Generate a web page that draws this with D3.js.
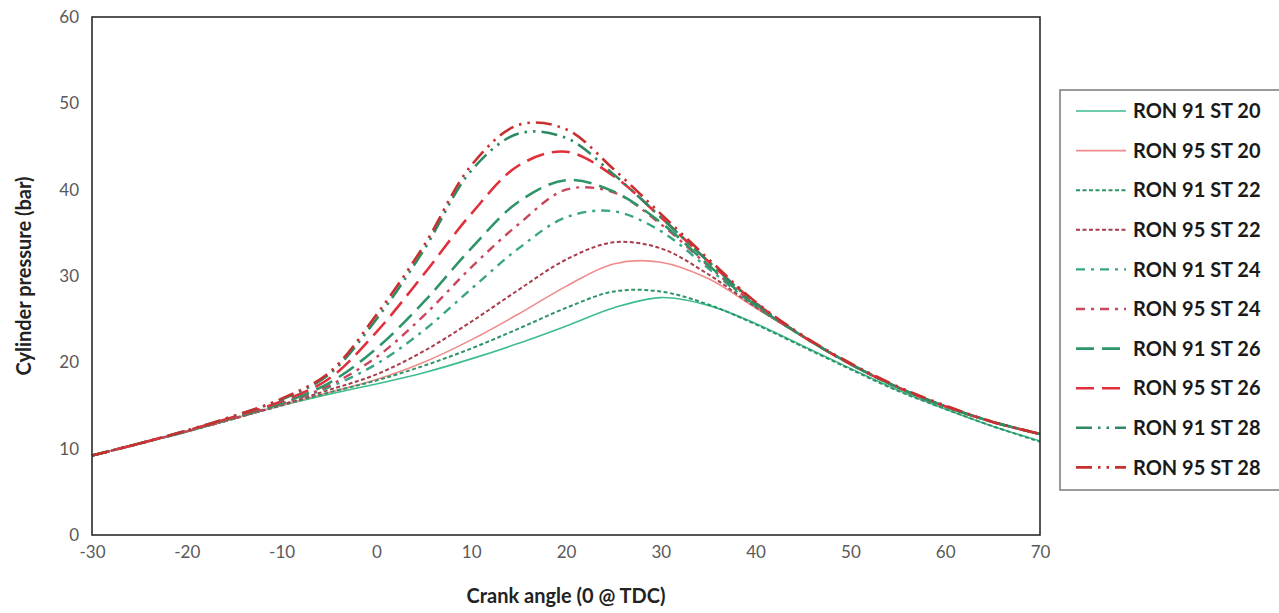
<!DOCTYPE html>
<html>
<head>
<meta charset="utf-8">
<script src="https://cdn.jsdelivr.net/npm/d3@7/dist/d3.min.js"></script>
<style>
  html, body { margin: 0; padding: 0; background: #fff; }
  svg { display: block; }
  text { font-family: Lato, "Open Sans", sans-serif; }
</style>
</head>
<body>
<svg id="chart" width="1279" height="613"></svg>
<script>
// Crank angles (deg, 0 @ TDC) at which pressure is sampled
const angles = [-30,-25,-20,-15,-10,-5,0,5,10,15,20,25,30,35,40,45,50,55,60,65,70];

// Cylinder pressure (bar) per fuel / spark timing
const ron91st20 = [9.2,10.6,12.0,13.5,15.0,16.3,17.5,18.8,20.4,22.2,24.2,26.3,27.5,26.6,24.5,21.9,19.3,16.8,14.6,12.6,10.9];
const ron95st20 = [9.2,10.6,12.0,13.5,15.0,16.5,18.0,20.0,22.6,25.6,28.8,31.4,31.6,29.7,26.3,23.0,19.8,17.1,14.9,13.1,11.7];
const ron91st22 = [9.2,10.6,12.0,13.5,15.0,16.5,17.9,19.6,21.6,23.9,26.3,28.2,28.2,26.7,24.4,21.8,19.2,16.7,14.6,12.6,10.8];
const ron95st22 = [9.2,10.6,12.0,13.5,15.1,16.8,18.6,21.3,24.7,28.4,31.9,33.9,33.2,30.2,26.4,23.0,19.8,17.1,14.9,13.1,11.7];
const ron91st24 = [9.2,10.6,12.0,13.5,15.2,17.1,19.8,23.7,28.5,33.2,36.8,37.5,35.2,30.9,26.5,23.0,19.8,17.1,14.9,13.1,11.7];
const ron95st24 = [9.2,10.6,12.0,13.5,15.2,17.3,20.6,25.4,31.0,36.0,40.0,39.7,36.0,31.2,26.6,23.0,19.8,17.1,14.9,13.1,11.7];
const ron91st26 = [9.2,10.6,12.0,13.6,15.3,17.6,21.6,27.0,33.2,38.6,41.1,39.8,36.2,31.3,26.6,23.0,19.8,17.1,14.9,13.1,11.7];
const ron95st26 = [9.2,10.6,12.1,13.7,15.5,18.1,23.5,30.2,37.2,42.8,44.4,41.6,36.8,31.7,26.9,23.0,19.8,17.1,14.9,13.1,11.7];
const ron91st28 = [9.2,10.6,12.1,13.8,15.7,18.6,25.0,33.0,42.2,46.5,46.0,41.8,36.8,31.7,26.8,23.0,19.8,17.1,14.9,13.1,11.7];
const ron95st28 = [9.2,10.6,12.1,13.8,15.8,18.8,25.5,33.5,42.8,47.5,47.0,42.4,37.2,32.0,27.0,23.1,19.9,17.2,15.0,13.1,11.7];

const seriesNames = ["RON 91 ST 20","RON 95 ST 20","RON 91 ST 22","RON 95 ST 22","RON 91 ST 24",
                     "RON 95 ST 24","RON 91 ST 26","RON 95 ST 26","RON 91 ST 28","RON 95 ST 28"];
const seriesValues = [ron91st20, ron95st20, ron91st22, ron95st22, ron91st24,
                      ron95st24, ron91st26, ron95st26, ron91st28, ron95st28];

const xTicks = [-30,-20,-10,0,10,20,30,40,50,60,70];
const yTicks = [0,10,20,30,40,50,60];

// Line styling per series (green = RON 91, red = RON 95)
const styles = [
  { color: "#3dbd8c", width: 1.6, dash: null },
  { color: "#f08c8c", width: 1.6, dash: null },
  { color: "#2e9468", width: 2.0, dash: "4,2.5" },
  { color: "#a83c4a", width: 2.0, dash: "4,2.5" },
  { color: "#3aa586", width: 2.4, dash: "9,6,3,6" },
  { color: "#c8475c", width: 2.4, dash: "9,6,3,6" },
  { color: "#2f9569", width: 2.6, dash: "18,8" },
  { color: "#e0303c", width: 2.6, dash: "18,8" },
  { color: "#2f8a64", width: 2.6, dash: "16,6,2.5,6,2.5,6" },
  { color: "#c8302f", width: 2.6, dash: "16,6,2.5,6,2.5,6" }
];

const svg = d3.select("#chart");
const plotL = 92, plotR = 1040, plotT = 17, plotB = 535;

const x = d3.scaleLinear().domain([-30, 70]).range([plotL, plotR]);
const y = d3.scaleLinear().domain([0, 60]).range([plotB, plotT]);

// Axes (labels only, no tick marks)
const gx = svg.append("g")
  .attr("transform", `translate(0,${plotB})`)
  .call(d3.axisBottom(x).tickValues(xTicks).tickSize(0).tickPadding(11).tickFormat(d => String(d)));
const gy = svg.append("g")
  .attr("transform", `translate(${plotL},0)`)
  .call(d3.axisLeft(y).tickValues(yTicks).tickSize(0).tickPadding(13).tickFormat(d => String(d)));
[gx, gy].forEach(g => {
  g.select(".domain").remove();
  g.selectAll("text")
    .attr("fill", "#595959")
    .style("font-family", "Lato, sans-serif")
    .style("font-size", "17px");
});

// Curves
const line = d3.line()
  .x((d, i) => x(angles[i]))
  .y(d => y(d))
  .curve(d3.curveCatmullRom.alpha(0.5));

svg.append("g")
  .selectAll("path")
  .data(seriesValues)
  .join("path")
  .attr("d", d => line(d))
  .attr("fill", "none")
  .attr("stroke", (d, i) => styles[i].color)
  .attr("stroke-width", (d, i) => styles[i].width)
  .attr("stroke-dasharray", (d, i) => styles[i].dash)
  .attr("stroke-linejoin", "round");

// Plot frame
svg.append("rect")
  .attr("x", plotL).attr("y", plotT)
  .attr("width", plotR - plotL).attr("height", plotB - plotT)
  .attr("fill", "none").attr("stroke", "#2b2b2b").attr("stroke-width", 1.6);

// Axis titles
svg.append("text")
  .attr("x", (plotL + plotR) / 2).attr("y", 603)
  .attr("text-anchor", "middle")
  .style("font-size", "20px").style("font-weight", "bold")
  .attr("fill", "#222")
  .text("Crank angle (0 @ TDC)");
svg.append("text")
  .attr("transform", `translate(31,${(plotT + plotB) / 2}) rotate(-90)`)
  .attr("text-anchor", "middle")
  .style("font-size", "20px").style("font-weight", "bold")
  .attr("fill", "#222")
  .text("Cylinder pressure (bar)");

// Legend
const lg = svg.append("g");
lg.append("rect")
  .attr("x", 1060).attr("y", 90)
  .attr("width", 240).attr("height", 400)
  .attr("fill", "#fff").attr("stroke", "#7a7a7a").attr("stroke-width", 1.5);

const items = lg.selectAll("g.item")
  .data(seriesNames)
  .join("g")
  .attr("class", "item")
  .attr("transform", (d, i) => `translate(0,${111 + i * 39.6})`);
items.append("line")
  .attr("x1", 1076).attr("x2", 1126)
  .attr("y1", 0).attr("y2", 0)
  .attr("stroke", (d, i) => styles[i].color)
  .attr("stroke-width", (d, i) => styles[i].width)
  .attr("stroke-dasharray", (d, i) => styles[i].dash);
items.append("text")
  .attr("x", 1133).attr("y", 0).attr("dy", "0.36em")
  .style("font-size", "20px").style("font-weight", "bold")
  .attr("fill", "#1a1a1a")
  .text(d => d);
</script>
</body>
</html>
